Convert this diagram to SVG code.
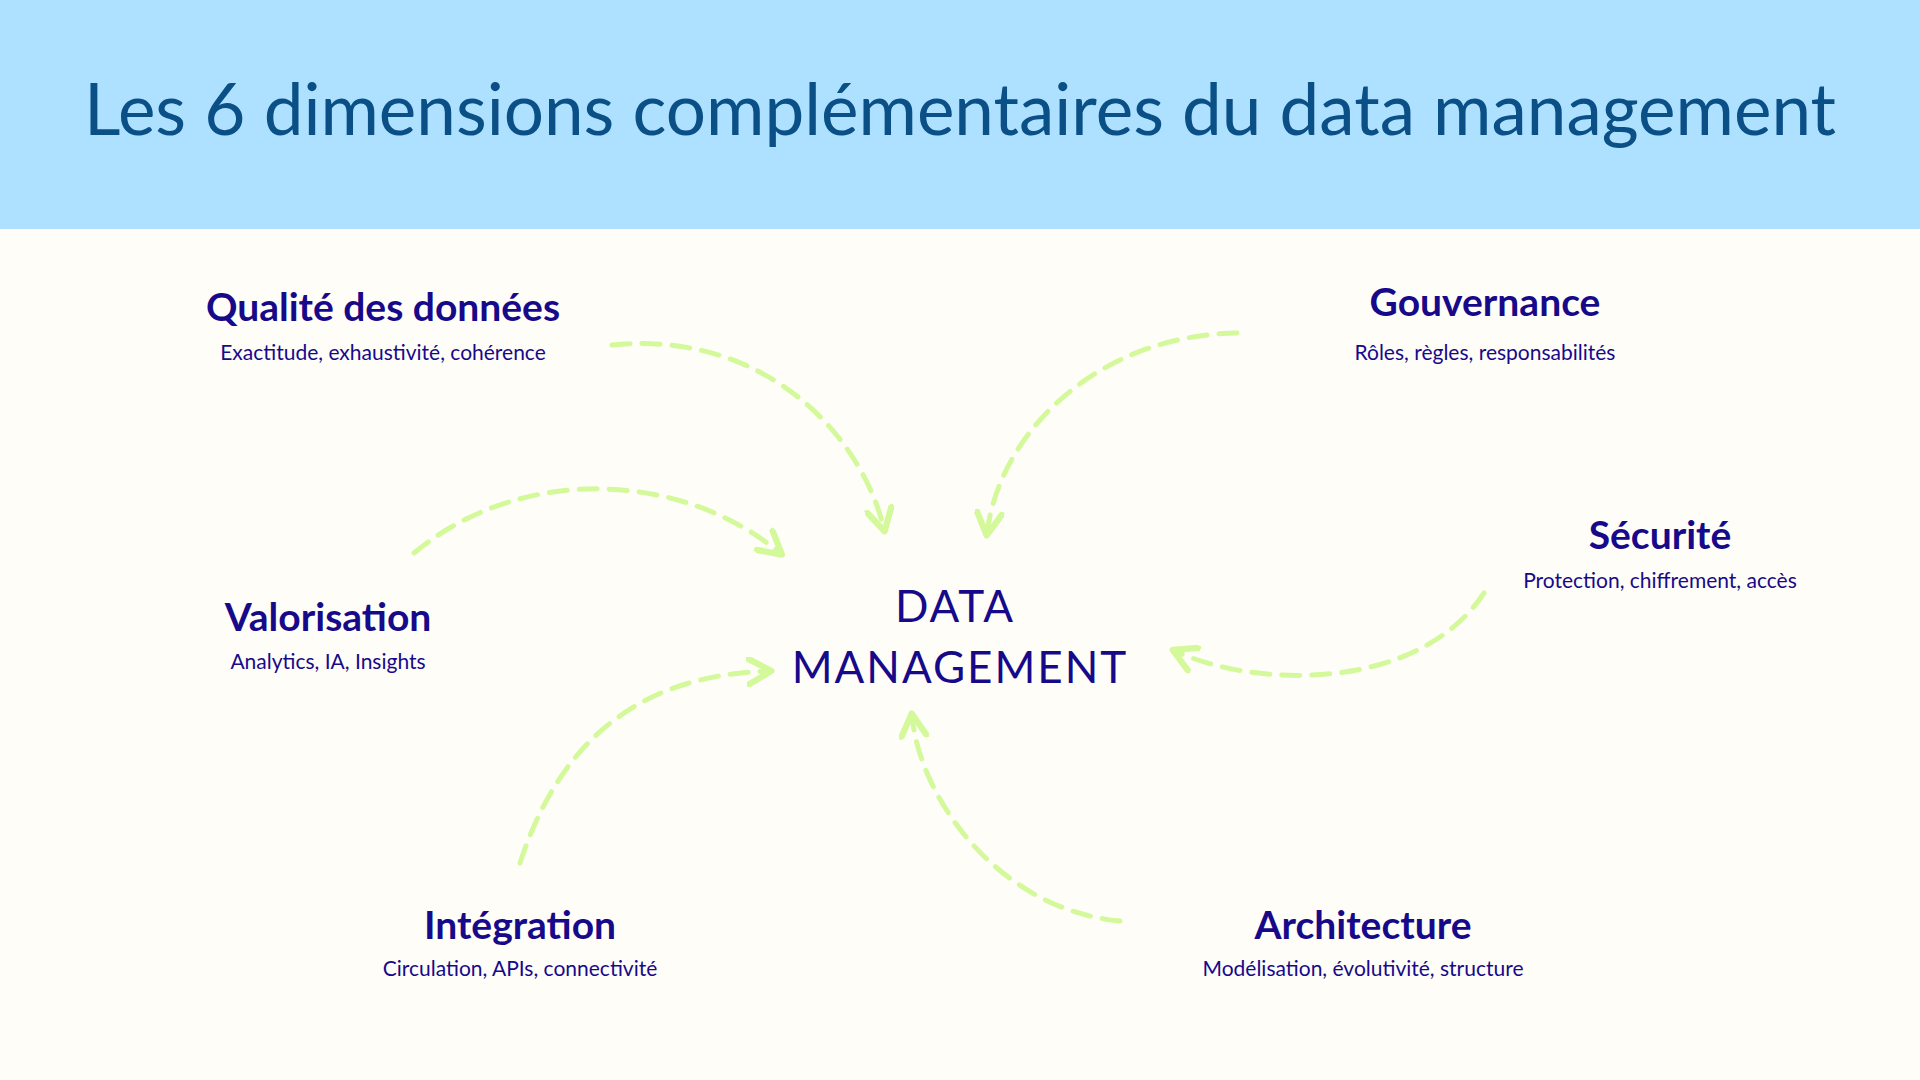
<svg xmlns="http://www.w3.org/2000/svg" width="1920" height="1080" viewBox="0 0 1920 1080">
<defs>
<style>
.t{font-family:Lato,"Open Sans",sans-serif;fill:#170a8a;text-anchor:middle}
.h{font-size:39px;font-weight:bold}
.s{font-size:21px}
.c{font-size:44px;letter-spacing:2px}
.a{fill:none;stroke:#d4f99a;stroke-width:5;stroke-dasharray:18 12;stroke-linecap:round;marker-end:url(#m)}
</style>
<marker id="m" viewBox="0 0 12 12" refX="9" refY="6" markerWidth="6" markerHeight="6" orient="auto" markerUnits="strokeWidth">
<path d="M1,1 L10,6 L1,11" fill="none" stroke="#d4f99a" stroke-width="2.5" stroke-linecap="round" stroke-linejoin="round"/>
</marker>
</defs>
<rect width="1920" height="1080" fill="#fffdf8"/>
<rect width="1920" height="229" fill="#aee0ff"/>
<text x="960" y="135" font-family="Lato,'Open Sans',sans-serif" font-size="71" fill="#0a4f86" text-anchor="middle">Les 6 dimensions complémentaires du data management</text>
<g id="connectors">
<path class="a" d="M612,345 C760,330 860,430 884,529"/>
<path class="a" d="M1237,333 C1100,335 1000,430 987,533"/>
<path class="a" d="M414,553 C520,465 680,470 780,553"/>
<path class="a" d="M520,863 C560,740 640,675 769,671"/>
<path class="a" d="M1120,921 C1000,910 920,800 912,716"/>
<path class="a" d="M1484,593 C1420,690 1260,690 1175,651"/>
</g>
<g id="center"><text class="t c" x="955" y="622">DATA</text><text class="t c" x="960" y="683">MANAGEMENT</text></g>
<g id="qualite"><text class="t h" x="383" y="321">Qualité des données</text><text class="t s" x="383" y="360">Exactitude, exhaustivité, cohérence</text></g>
<g id="gouvernance"><text class="t h" x="1485" y="316">Gouvernance</text><text class="t s" x="1485" y="360">Rôles, règles, responsabilités</text></g>
<g id="securite"><text class="t h" x="1660" y="549">Sécurité</text><text class="t s" x="1660" y="588">Protection, chiffrement, accès</text></g>
<g id="valorisation"><text class="t h" x="328" y="631">Valorisation</text><text class="t s" x="328" y="669">Analytics, IA, Insights</text></g>
<g id="integration"><text class="t h" x="520" y="939">Intégration</text><text class="t s" x="520" y="976">Circulation, APIs, connectivité</text></g>
<g id="architecture"><text class="t h" x="1363" y="939">Architecture</text><text class="t s" x="1363" y="976">Modélisation, évolutivité, structure</text></g>
</svg>
